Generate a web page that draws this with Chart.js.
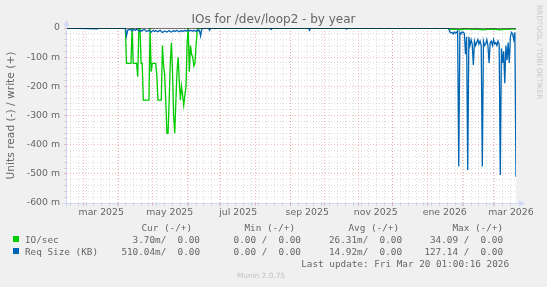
<!DOCTYPE html>
<html>
<head>
<meta charset="utf-8">
<script src="https://cdn.jsdelivr.net/npm/chart.js@4.4.1/dist/chart.umd.min.js"></script>
<style>
  body { margin: 0; background: #f0f0f0; }
  #wrap { position: relative; width: 547px; height: 287px; overflow: hidden; color: #666; font-family: "DejaVu Sans"; }
  canvas { position: absolute; left: 0; top: 0; }
  .t { position: absolute; white-space: pre; line-height: 1; }
  .m { font-family: "DejaVu Sans Mono"; font-size: 9.33px; }
  .r { text-align: right; }
  .box { position: absolute; width: 6px; height: 6px; }
</style>
</head>
<body>
<div id="wrap">
  <canvas id="chart" width="547" height="287"></canvas>
  <div class="t" style="left:0;width:547px;text-align:center;top:13px;font-size:12px">IOs for /dev/loop2 - by year</div>
  <div class="t" style="left:536px;top:5px;font-size:7.33px;color:#c8c8c8;writing-mode:vertical-rl">RRDTOOL / TOBI OETIKER</div>

  <div class="t m r" style="right:355px;top:223px">Cur (-/+)</div>
  <div class="t m r" style="right:252px;top:223px">Min (-/+)</div>
  <div class="t m r" style="right:148px;top:223px">Avg (-/+)</div>
  <div class="t m r" style="right:44px;top:223px">Max (-/+)</div>

  <div class="box" style="left:13px;top:236px;background:#00cc00"></div>
  <div class="t m" style="left:25px;top:235px">IO/sec</div>
  <div class="t m r" style="right:347px;top:235px">3.70m/  0.00</div>
  <div class="t m r" style="right:246px;top:235px">0.00 /  0.00</div>
  <div class="t m r" style="right:145px;top:235px">26.31m/  0.00</div>
  <div class="t m r" style="right:44px;top:235px">34.09 /  0.00</div>

  <div class="box" style="left:13px;top:248px;background:#0066b3"></div>
  <div class="t m" style="left:25px;top:247px">Req Size (KB)</div>
  <div class="t m r" style="right:347px;top:247px">510.04m/  0.00</div>
  <div class="t m r" style="right:246px;top:247px">0.00 /  0.00</div>
  <div class="t m r" style="right:145px;top:247px">14.92m/  0.00</div>
  <div class="t m r" style="right:44px;top:247px">127.14 /  0.00</div>

  <div class="t m r" style="right:38px;top:259px">Last update: Fri Mar 20 01:00:16 2026</div>
  <div class="t" style="left:0;width:522px;text-align:center;top:272px;font-size:7.33px;color:#c0c0c0">Munin 2.0.75</div>
</div>
<script>
// x = days since 14 Feb 2025, the graph spans 400 days up to 20 Mar 2026
const DAY0 = Date.UTC(2025, 1, 14)
const SPAN = 400

const monthLabels = ["mar 2025", "may 2025", "jul 2025", "sep 2025", "nov 2025", "ene 2026", "mar 2026"]
const labelMonths = [[2025, 2], [2025, 4], [2025, 6], [2025, 8], [2025, 10], [2026, 0], [2026, 2]]

const yTicks = [0, -100, -200, -300, -400, -500, -600]

// IO/sec, read side (milli units, plotted below zero)
const ioDays = [0, 52, 53, 54, 55, 56, 57, 58, 59, 60, 61, 62, 63, 64, 65, 66, 67, 68, 69, 70, 71, 72, 73, 74, 75, 76, 77, 78, 79, 80,
  81, 82, 83, 84, 85, 86, 87, 88, 89, 90, 91, 92, 93, 94, 95, 96, 97, 98, 99, 100, 101, 102, 103, 104, 105, 106, 107, 108, 109, 110,
  111, 112, 113, 114, 115, 116, 117, 340, 341, 345, 350, 355, 360, 365, 370, 375, 380, 385, 390, 395, 400]
const ioRead = [0, 0, 121, 121, 121, 121, 121, 0, 121, 121, 121, 121, 167, 0, 0, 121, 121, 247, 247, 247, 247, 247, 247, 0, 150, 121, 121, 121, 121, 160,
  247, 247, 247, 247, 60, 130, 160, 250, 361, 361, 250, 120, 51, 150, 300, 361, 250, 150, 100, 180, 247, 200, 230, 265, 230, 200, 50, 0, 150, 60,
  90, 100, 130, 120, 60, 10, 0, 0, 5, 4, 6, 3, 5, 4, 6, 5, 4, 6, 5, 4, 4]

// Req Size (KB), read side (milli units)
const reqDays = [0, 27, 28, 52, 53, 54, 55, 56, 57, 58, 59, 60, 61, 62, 63, 64, 65, 66, 67, 68, 69, 70, 71, 72, 73, 74, 75, 76, 77, 78, 79, 80,
  81, 82, 83, 84, 85, 86, 87, 88, 89, 90, 91, 92, 93, 94, 95, 96, 97, 98, 99, 100, 101, 102, 103, 104, 105, 106, 107, 108, 109, 110,
  111, 112, 113, 114, 115, 116, 117, 118, 119, 120, 121, 126, 127, 128, 181, 182, 183, 215, 216, 217, 248, 249, 250,
  340, 341, 342, 343, 344, 345, 346, 347, 348, 349, 350, 351, 352, 353, 354, 355, 356, 357, 358, 359, 360,
  361, 362, 363, 364, 365, 366, 367, 368, 369, 370, 371, 372, 373, 374, 375, 376, 377, 378, 379, 380,
  381, 382, 383, 384, 385, 386, 387, 388, 389, 390, 391, 392, 393, 394, 395, 396, 397, 398, 399, 400]
const reqRead = [0, 3, 0, 0, 27, 8, 5, 6, 5, 10, 6, 5, 8, 4, 6, 10, 12, 8, 10, 6, 5, 9, 12, 10, 7, 12, 14, 10, 8, 12, 9, 11,
  13, 10, 8, 12, 15, 13, 10, 12, 14, 11, 9, 12, 14, 11, 9, 12, 10, 8, 11, 13, 10, 9, 12, 10, 8, 11, 9, 7, 10, 8,
  9, 11, 8, 10, 12, 6, 10, 8, 27, 5, 0, 0, 8, 0, 0, 5, 0, 0, 8, 0, 0, 4, 0,
  0, 13, 16, 15, 20, 14, 18, 16, 10, 475, 15, 20, 14, 15, 18, 90, 30, 487, 30, 60, 40,
  55, 127, 45, 60, 50, 40, 55, 45, 60, 475, 45, 60, 55, 40, 60, 120, 50, 45, 60, 40,
  55, 50, 60, 45, 55, 504, 70, 120, 80, 189, 60, 110, 50, 120, 30, 15, 20, 40, 15, 510]

function dayOf(y, m, d) { return (Date.UTC(y, m, d) - DAY0) / 86400000 }

function xTickList() {
  const list = []
  // weekly minor lines (mondays)
  for (let d = dayOf(2025, 1, 17); d < SPAN; d += 7) list.push({ value: d, kind: 'week' })
  for (let y = 2025, m = 2; dayOf(y, m, 1) < SPAN; m++) {
    if (m > 11) { m = 0; y++ }
    list.push({ value: dayOf(y, m, 1), kind: 'month' })
  }
  labelMonths.forEach(([y, m], i) => {
    list.push({ value: (dayOf(y, m, 1) + dayOf(y, m + 1, 1)) / 2, kind: 'label', text: monthLabels[i] })
  })
  return list.sort((a, b) => a.value - b.value)
}

const RED = 'rgba(228,80,80,0.4)'
const GREY = 'rgba(143,143,143,0.3)'
const AXIS = '#cfd6f8'

const frame = {
  id: 'frame',
  beforeDraw(chart) {
    const { ctx, chartArea: a } = chart
    ctx.save()
    ctx.fillStyle = '#fff'
    ctx.fillRect(a.left, a.top, a.right - a.left, a.bottom - a.top)
    ctx.restore()
  },
  afterDraw(chart) {
    const { ctx, chartArea: a } = chart
    const x = Math.round(a.left) - 0.5, y = Math.round(a.bottom) + 0.5
    ctx.save()
    ctx.strokeStyle = AXIS
    ctx.fillStyle = AXIS
    ctx.lineWidth = 1
    ctx.beginPath()
    ctx.moveTo(x, a.bottom + 4); ctx.lineTo(x, a.top - 4)
    ctx.moveTo(a.left - 4, y); ctx.lineTo(a.right + 4, y)
    ctx.stroke()
    ctx.beginPath()
    ctx.moveTo(x - 3, a.top - 2); ctx.lineTo(x + 3, a.top - 2); ctx.lineTo(x, a.top - 8); ctx.closePath()
    ctx.moveTo(a.right + 3, y - 3); ctx.lineTo(a.right + 3, y + 3); ctx.lineTo(a.right + 9, y); ctx.closePath()
    ctx.fill()
    ctx.restore()
  }
}

const toPoints = (days, vals) => days.map((d, i) => ({ x: d, y: -vals[i] }))

new Chart(document.getElementById('chart'), {
  type: 'line',
  data: {
    datasets: [
      { label: 'zero', data: [{ x: 0, y: 0 }, { x: SPAN, y: 0 }], borderColor: '#000', borderWidth: 1, order: 0 },
      { label: 'Req Size (KB)', data: toPoints(reqDays, reqRead), borderColor: '#0066b3', borderWidth: 1.3, order: 1 },
      { label: 'IO/sec', data: toPoints(ioDays, ioRead), borderColor: '#00cc00', borderWidth: 1.3, order: 2 }
    ]
  },
  options: {
    responsive: false,
    animation: false,
    events: [],
    layout: { padding: { top: 28, right: 31, left: 0, bottom: 0 } },
    elements: { point: { radius: 0 }, line: { tension: 0 } },
    plugins: { legend: { display: false }, tooltip: { enabled: false } },
    scales: {
      x: {
        type: 'linear', min: 0, max: SPAN,
        afterBuildTicks: s => { s.ticks = xTickList() },
        afterFit: s => { s.height = 84 },
        ticks: {
          autoSkip: false, maxRotation: 0, padding: 1, color: '#666',
          font: { family: 'DejaVu Sans', size: 9.33 },
          callback: (v, i, ticks) => ticks[i].text || ''
        },
        grid: {
          tickLength: 3,
          color: c => c.tick.kind === 'month' ? RED : c.tick.kind === 'week' ? GREY : 'transparent',
          tickColor: c => c.tick.kind === 'month' ? RED : c.tick.kind === 'week' ? GREY : 'transparent'
        },
        border: { display: false, dash: [1, 2] }
      },
      y: {
        min: -600, max: 0,
        afterFit: s => { s.width = 67 },
        ticks: {
          stepSize: 20, padding: 4, color: '#666', autoSkip: false,
          font: { family: 'DejaVu Sans', size: 9.33 },
          callback: v => yTicks.includes(v) ? (v === 0 ? '0' : v + ' m') : ''
        },
        grid: {
          tickLength: 3,
          color: c => c.tick.value % 100 === 0 ? RED : GREY,
          tickColor: c => c.tick.value % 100 === 0 ? RED : GREY
        },
        border: { display: false, dash: [1, 2] },
        title: {
          display: true, text: 'Units read (-) / write (+)', color: '#666',
          font: { family: 'DejaVu Sans', size: 10.67 }, padding: { top: 5, bottom: 0 }
        }
      }
    }
  },
  plugins: [frame]
})
</script>
</body>
</html>
